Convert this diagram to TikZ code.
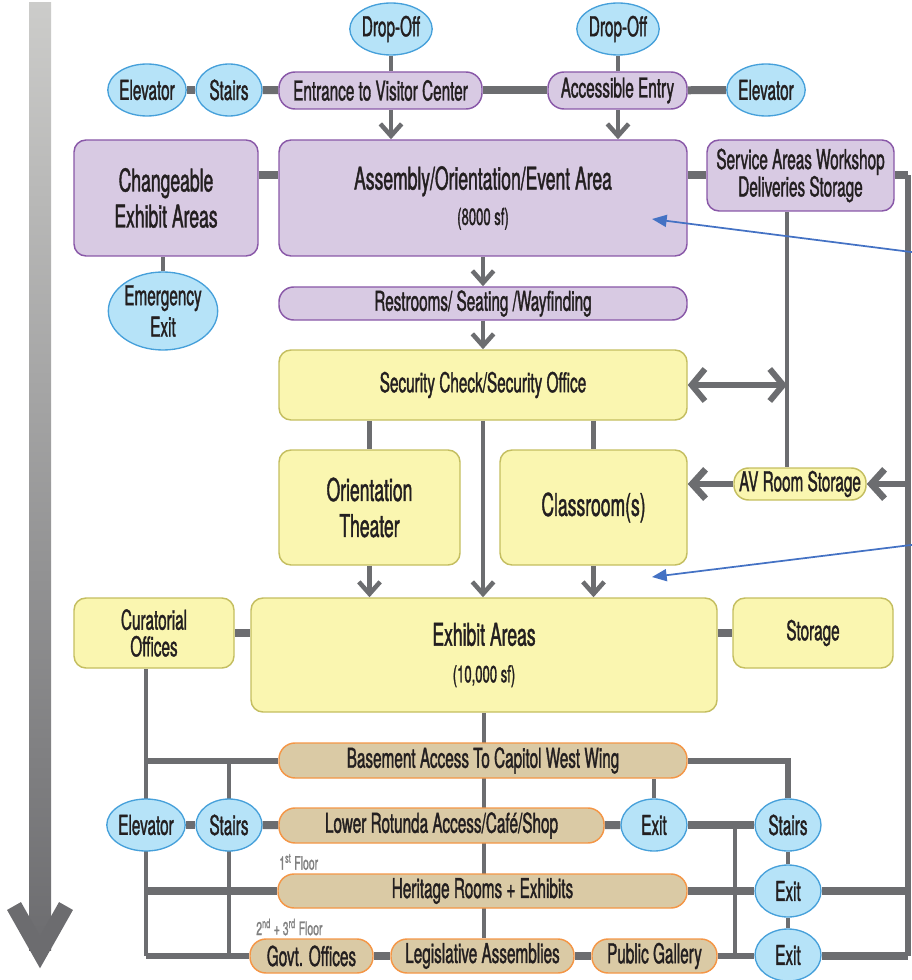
\documentclass[tikz,border=0pt]{standalone}
\usepackage{fontspec}
\setmainfont{TeX Gyre Heros}[FakeStretch=0.56,FakeBold=1.2]
\usetikzlibrary{shapes.geometric,arrows.meta,backgrounds}

\definecolor{purplefill}{RGB}{216,202,227}
\definecolor{purpleline}{RGB}{137,88,168}
\definecolor{yellowfill}{RGB}{250,246,176}
\definecolor{yellowline}{RGB}{196,190,96}
\definecolor{tanfill}{RGB}{218,202,165}
\definecolor{tanline}{RGB}{244,150,70}
\definecolor{ovalfill}{RGB}{182,227,248}
\definecolor{ovalline}{RGB}{70,160,218}
\definecolor{linkgray}{RGB}{108,109,112}
\definecolor{txtdark}{RGB}{35,31,32}
\definecolor{noteblue}{RGB}{68,114,196}
\definecolor{levtop}{RGB}{204,204,202}
\definecolor{levbot}{RGB}{108,108,111}
\definecolor{floorgray}{RGB}{128,128,128}

\newcommand{\bigtxt}{\fontsize{23.5}{27}\selectfont}
\newcommand{\medtxt}{\fontsize{20.5}{20.5}\selectfont}
\newcommand{\subtxt}{\fontsize{17.5}{19}\selectfont}
\newcommand{\floortxt}{\fontsize{14}{14}\selectfont}

\tikzset{
	room/.style={rounded corners=9pt, line width=1.1pt, inner sep=0pt, align=center, text=txtdark, font=\medtxt},
	purplebox/.style={room, draw=purpleline, fill=purplefill},
	yellowbox/.style={room, draw=yellowline, fill=yellowfill},
	tanbox/.style={room, draw=tanline, fill=tanfill, rounded corners=12pt},
	oval/.style={ellipse, draw=ovalline, fill=ovalfill, line width=1pt, inner sep=0pt, minimum width=49.5pt, minimum height=39pt, align=center, text=txtdark, font=\medtxt},
	link/.style={draw=linkgray, line width=3.4pt},
	mid/.style={draw=linkgray, line width=4.5pt},
	bar/.style={draw=linkgray, line width=6pt},
	rail/.style={draw=linkgray, line width=4pt},
	flow/.style={link, -{Straight Barb[length=9pt,width=16pt]}},
	barflow/.style={draw=linkgray, line width=5pt, -{Straight Barb[length=10pt,width=22pt]}},
	twoway/.style={draw=linkgray, line width=4.5pt, {Straight Barb[length=10pt,width=24pt]}-{Straight Barb[length=10pt,width=24pt]}},
	note/.style={draw=noteblue, line width=1.3pt, -{Triangle[length=11pt,width=9pt]}},
	floor/.style={anchor=west, inner sep=0pt, text=floorgray, font=\floortxt}
}

\begin{document}
\begin{tikzpicture}[x=0.75pt,y=0.75pt,yscale=-1,xscale=1]
	\useasboundingbox (0,0) rectangle (911,980);

	% Level arrow
	\shade[top color=levtop, bottom color=levbot] (29,3) rectangle (51,950);
	\draw[draw=levbot, line width=12pt, line join=miter] (14,906) -- (40,952) -- (66,906);

	% Ovals
	\node[oval] (dropa) at (391,29) {Drop-Off};
	\node[oval] (dropb) at (618,29) {Drop-Off};
	\node[oval] (elevtop) at (147,90) {Elevator};
	\node[oval] (stairstop) at (229,90) {Stairs};
	\node[oval] (elevright) at (766,90) {Elevator};
	\node[oval, minimum width=74pt, minimum height=58.5pt] (emerg) at (163,311) {Emergency\\[3pt]Exit};
	\node[oval] (elevlow) at (146,825) {Elevator};
	\node[oval] (stairslow) at (229,825) {Stairs};
	\node[oval] (exitrot) at (654,825) {Exit};
	\node[oval] (stairsright) at (788,825) {Stairs};
	\node[oval] (exitmid) at (788,891) {Exit};
	\node[oval] (exitlow) at (788,955) {Exit};

	% Entrance level
	\node[purplebox, rounded corners=12pt, minimum width=152.25pt, minimum height=27.75pt] (entrance) at (380.5,90.5) {Entrance to Visitor Center};
	\node[purplebox, rounded corners=12pt, minimum width=104.25pt, minimum height=27.75pt] (access) at (617.5,90.5) {Accessible Entry};
	\node[purplebox, minimum width=138pt, minimum height=87pt, font=\bigtxt] (changeable) at (166,198) {Changeable\\Exhibit Areas};
	\node[purplebox, minimum width=306pt, minimum height=87pt] (assembly) at (483,198) {{\bigtxt Assembly/Orientation/Event Area}\\[6pt]{\subtxt (8000 sf)}};
	\node[purplebox, minimum width=140.25pt, minimum height=53.25pt] (service) at (800.5,175.5) {Service Areas Workshop\\Deliveries Storage};
	\node[purplebox, rounded corners=11pt, minimum width=306pt, minimum height=24.75pt] (restrooms) at (483,303.5) {Restrooms/ Seating /Wayfinding};

	% Visitor level
	\node[yellowbox, minimum width=306pt, minimum height=52.5pt] (security) at (483,385) {Security Check/Security Office};
	\node[yellowbox, minimum width=135.75pt, minimum height=86.25pt, font=\bigtxt] (theater) at (369.5,507.5) {Orientation\\Theater};
	\node[yellowbox, minimum width=140.25pt, minimum height=86.25pt, font=\bigtxt] (classroom) at (593.5,507.5) {Classroom(s)};
	\node[yellowbox, rounded corners=11pt, minimum width=99pt, minimum height=24pt] (avroom) at (800,484) {AV Room Storage};
	\node[yellowbox, minimum width=349.5pt, minimum height=85.5pt] (exhibit) at (484,655) {{\bigtxt Exhibit Areas}\\[7pt]{\subtxt (10,000 sf)}};
	\node[yellowbox, minimum width=120pt, minimum height=52.5pt, font=\fontsize{20.5}{20}\selectfont] (curatorial) at (154,633) {Curatorial\\Offices};
	\node[yellowbox, minimum width=120pt, minimum height=52.5pt] (storage) at (813,633) {Storage};

	% Lower floors
	\node[tanbox, minimum width=306pt, minimum height=26.25pt] (basement) at (483,760.5) {Basement Access To Capitol West Wing};
	\node[tanbox, minimum width=243.75pt, minimum height=26.25pt] (rotunda) at (441.5,825.5) {Lower Rotunda Access/Café/Shop};
	\node[tanbox, minimum width=306.75pt, minimum height=25.5pt] (heritage) at (482.5,891) {Heritage Rooms + Exhibits};
	\node[tanbox, minimum width=92.25pt, minimum height=25.5pt] (govt) at (311.5,956) {Govt. Offices};
	\node[tanbox, minimum width=137.25pt, minimum height=25.5pt] (legis) at (482.5,956) {Legislative Assemblies};
	\node[tanbox, minimum width=93.75pt, minimum height=25.5pt] (gallery) at (654.5,956) {Public Gallery};

	% Text Node
	\node[floor] (floorone) at (279,862) {1\textsuperscript{st} Floor};
	\node[floor] (floortwo) at (256,927) {2\textsuperscript{nd} + 3\textsuperscript{rd} Floor};

	\coordinate (railtop) at (908,175.5);
	\coordinate (railbot) at (908,956);
	\coordinate (svcline) at (787,385);
	\coordinate (junc) at (735,825);

	\begin{scope}[on background layer]
		% upper connectors
		\draw[link] (dropa) -- (dropa |- entrance.north);
		\draw[link] (dropb) -- (dropb |- access.north);
		\draw[bar] (elevtop) -- (stairstop);
		\draw[bar] (stairstop) -- (entrance);
		\draw[bar] (entrance) -- (access);
		\draw[bar] (access) -- (elevright);
		\draw[flow] (dropa |- entrance.south) -- (dropa |- assembly.north);
		\draw[flow] (dropb |- access.south) -- (dropb |- assembly.north);
		\draw[bar] (changeable.east |- service) -- (assembly.west |- service);
		\draw[bar] (assembly.east |- service) -- (service.west);
		\draw[bar] (service.east) -- (railtop);
		\draw[rail] (railtop) -- (railbot);
		\draw[link] (svcline |- service.south) -- (svcline |- avroom.north);
		\draw[link] (emerg.north) -- (emerg.north |- changeable.south);
		\draw[flow] (assembly.south) -- (restrooms.north);
		\draw[flow] (restrooms.south) -- (security.north);
		\draw[twoway] (security.east) -- (svcline);
		\draw[link] (theater.north |- security.south) -- (theater.north);
		\draw[link] (classroom.north |- security.south) -- (classroom.north);
		\draw[flow] (security.south) -- (security.south |- exhibit.north);
		\draw[flow] (theater.south) -- (theater.south |- exhibit.north);
		\draw[flow] (classroom.south) -- (classroom.south |- exhibit.north);
		\draw[barflow] (avroom.west) -- (avroom.west -| classroom.east);
		\draw[barflow] (avroom.east -| railtop) -- (avroom.east);
		\draw[bar] (curatorial.east) -- (curatorial.east -| exhibit.west);
		\draw[bar] (exhibit.east |- storage) -- (storage.west);
		\draw[link] (exhibit.south) -- (exhibit.south |- legis.north);
		% lower connectors
		\draw[link] (elevlow |- curatorial.south) -- (elevlow |- govt);
		\draw[mid] (elevlow |- basement) -- (basement.west);
		\draw[link] (stairslow |- basement) -- (stairslow |- govt);
		\draw[bar] (elevlow) -- (stairslow);
		\draw[bar] (stairslow) -- (rotunda);
		\draw[bar] (elevlow |- heritage) -- (heritage.west);
		\draw[mid] (elevlow |- govt) -- (govt.west);
		\draw[bar] (govt) -- (legis);
		\draw[bar] (legis) -- (gallery);
		\draw[bar] (rotunda) -- (exitrot);
		\draw[bar] (exitrot) -- (stairsright);
		\draw[link] (exitrot.north) -- (exitrot.north |- basement.south);
		\draw[mid] (basement.east) -| (stairsright.north);
		\draw[link] (junc) -- (junc |- gallery);
		\draw[link] (stairsright) -- (exitmid);
		\draw[link] (exitmid) -- (exitlow);
		\draw[bar] (heritage.east) -- (exitmid.west);
		\draw[bar] (exitmid.east) -- (exitmid.east -| railtop);
		\draw[mid] (gallery.east) -- (gallery.east -| exitlow.west);
		\draw[bar] (exitlow.east |- railbot) -- (railbot);
	\end{scope}

	% Notes
	\coordinate (noteastart) at (915,252.5);
	\coordinate (noteatip) at (652,219);
	\coordinate (notebstart) at (915,544.5);
	\coordinate (notebtip) at (652,577);
	\draw[note] (noteastart) -- (noteatip);
	\draw[note] (notebstart) -- (notebtip);

\end{tikzpicture}
\end{document}
